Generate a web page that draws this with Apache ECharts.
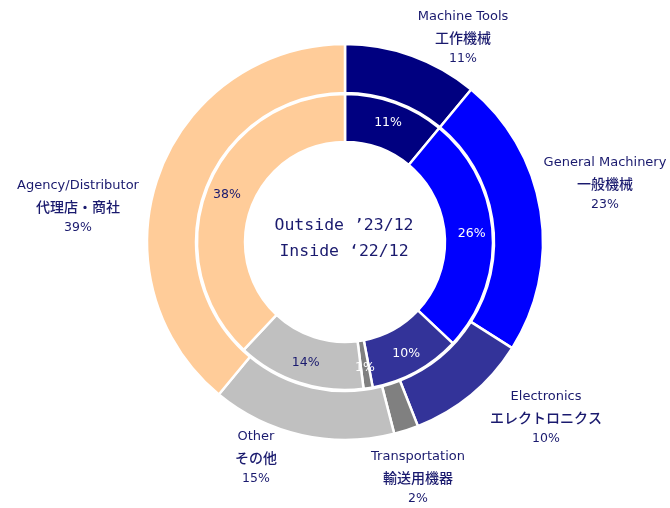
<!DOCTYPE html>
<html><head><meta charset="utf-8">
<script src="https://cdn.jsdelivr.net/npm/echarts@6/dist/echarts.min.js"></script>
<style>html,body{margin:0;padding:0;background:#fff}#c{width:670px;height:508px}</style>
</head><body><div id="c"></div>
<script>
const categoriesEn = ['Machine Tools','General Machinery','Electronics','Transportation','Other','Agency/Distributor'];
const categoriesJa = ['工作機械','一般機械','エレクトロニクス','輸送用機器','その他','代理店・商社'];
const outside2312 = [11,23,10,2,15,39];
const inside2212 = [11,26,10,1,14,38];
const colors = ['#000080','#0000FF','#333399','#808080','#C0C0C0','#FFCC99'];
const innerLabelColors = ['#fff','#fff','#fff','#fff','#1a1a6e','#1a1a6e'];
const centerLines = ['Outside ’23/12','Inside ‘22/12'];

// label anchor positions for outer labels (layout only)
const outerLabelPos = [[463,38],[605,184],[546,418],[418,478],[256,458],[78,207]];

const txt = '#1a1a6e';
const latin = '"DejaVu Sans",sans-serif';
const cjk = '"Noto Sans CJK JP","DejaVu Sans",sans-serif';
const chart = echarts.init(document.getElementById('c'), null, {renderer:'canvas'});
chart.setOption({
  animation:false,
  title:{
    text: centerLines.join('\n'),
    left:339, top:208, textAlign:'center',
    textStyle:{fontFamily:'"DejaVu Sans Mono",monospace',fontWeight:'normal',fontSize:16.5,color:txt,lineHeight:26}
  },
  series:[
    {
      type:'pie', center:[345,242], radius:[149,198], startAngle:90, clockwise:true,
      itemStyle:{borderColor:'#fff',borderWidth:2.5},
      label:{show:true,position:'outside',overflow:'none',color:txt,align:'center',
        formatter:p=>'{en|'+categoriesEn[p.dataIndex]+'}\n{ja|'+categoriesJa[p.dataIndex]+'}\n{pc|'+p.value+'%}',
        rich:{
          en:{fontFamily:latin,fontSize:13,color:txt,lineHeight:21},
          ja:{fontFamily:cjk,fontSize:14,fontWeight:500,color:txt,lineHeight:21},
          pc:{fontFamily:latin,fontSize:12.5,color:txt,lineHeight:21}
        }},
      labelLine:{show:false},
      labelLayout:p=>({x:outerLabelPos[p.dataIndex][0],y:outerLabelPos[p.dataIndex][1],align:'center',verticalAlign:'middle'}),
      data: outside2312.map((v,i)=>({value:v,name:categoriesEn[i],itemStyle:{color:colors[i]}}))
    },
    {
      type:'pie', center:[345,242], radius:[100,148], startAngle:90, clockwise:true,
      itemStyle:{borderColor:'#fff',borderWidth:2.5},
      label:{show:true,position:'inside',fontFamily:latin,fontSize:12.5,
        formatter:p=>p.value+'%'},
      labelLine:{show:false},
      data: inside2212.map((v,i)=>({value:v,name:categoriesEn[i],itemStyle:{color:colors[i]},label:{color:innerLabelColors[i]}}))
    }
  ]
});
</script></body></html>
